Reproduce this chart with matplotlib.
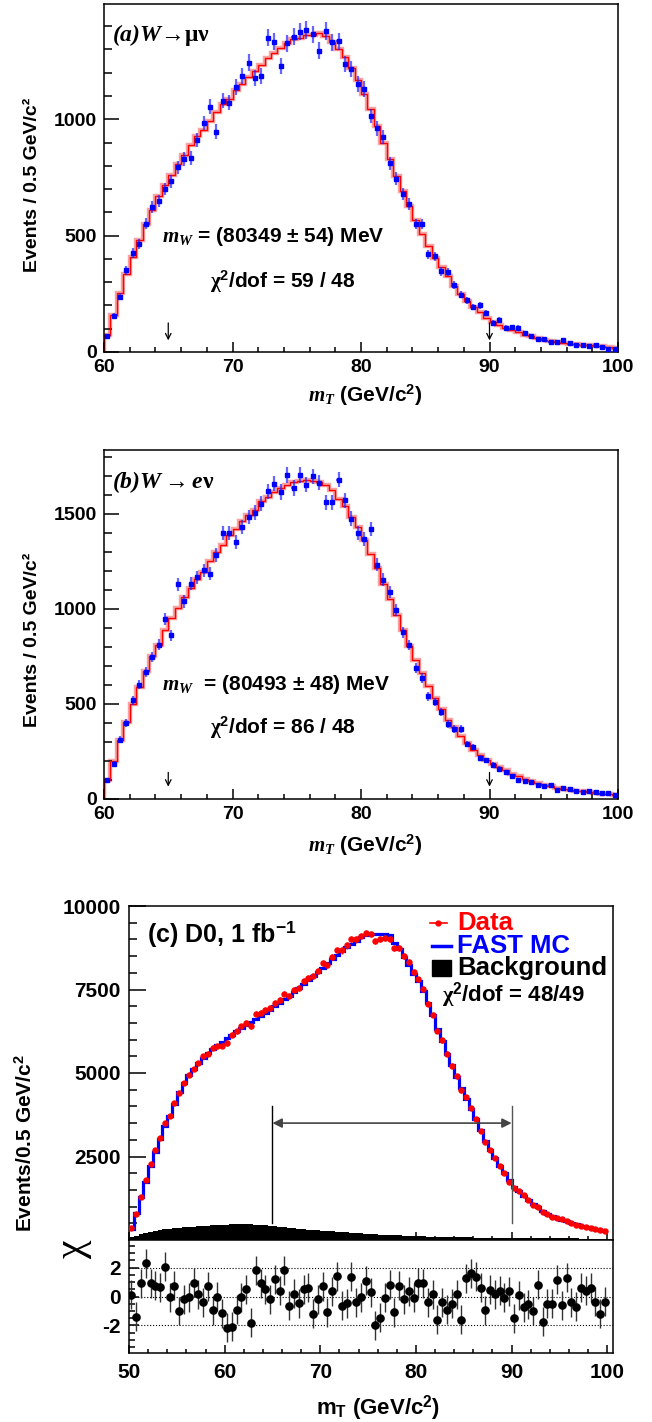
import numpy as np
import matplotlib
matplotlib.use('Agg')
import matplotlib.pyplot as plt
from matplotlib.ticker import MultipleLocator, FixedLocator
from matplotlib.lines import Line2D
from matplotlib.patches import Rectangle

plt.rcParams.update({
    'font.family': 'Liberation Sans', 'font.weight': 'bold',
    'mathtext.fontset': 'custom',
    'mathtext.rm': 'Liberation Sans:bold',
    'mathtext.bf': 'Liberation Sans:bold',
    'mathtext.it': 'Liberation Serif:italic:bold',
    'mathtext.sf': 'Liberation Serif',
    'mathtext.cal': 'Liberation Serif:italic:bold',
    'axes.linewidth': 1.1,
    'axes.unicode_minus': False,
})

# ---------------- data ----------------
EDGES_AB = np.linspace(60, 100, 81)
EDGES_C = np.linspace(50, 100, 101)

A_TEMPLATE = [71, 161, 254, 333, 409, 483, 551, 611, 671, 719,
              761, 807, 847, 890, 926, 954, 994, 1030, 1066, 1086,
              1126, 1151, 1180, 1207, 1233, 1261, 1283, 1307, 1329, 1343,
              1351, 1361, 1363, 1369, 1357, 1333, 1300, 1266, 1219, 1169,
              1109, 1043, 971, 900, 829, 754, 690, 628, 566, 506,
              455, 402, 365, 325, 285, 250, 220, 194, 170, 145,
              130, 115, 104, 95, 84, 75, 67, 59, 52, 47,
              43, 39, 36, 33, 30, 28, 26, 24, 21, 19]
A_DATA = [69, 154, 237, 351, 426, 464, 551, 623, 647, 700,
          733, 794, 829, 833, 911, 983, 1054, 947, 1080, 1071,
          1137, 1186, 1243, 1179, 1186, 1350, 1333, 1229, 1326, 1354,
          1376, 1383, 1364, 1294, 1379, 1330, 1336, 1236, 1216, 1151,
          1129, 1014, 961, 923, 811, 744, 678, 637, 550, 550,
          419, 411, 347, 343, 286, 247, 223, 193, 200, 166,
          126, 137, 104, 107, 104, 83, 69, 57, 57, 44,
          44, 50, 37, 30, 30, 26, 30, 23, 11, 11]

B_TEMPLATE = [98, 198, 312, 404, 500, 588, 672, 751, 812, 891,
              953, 1005, 1061, 1109, 1158, 1196, 1251, 1298, 1337, 1389,
              1418, 1460, 1495, 1521, 1565, 1588, 1614, 1635, 1653, 1667,
              1670, 1675, 1672, 1667, 1649, 1623, 1579, 1539, 1482, 1430,
              1363, 1289, 1214, 1132, 1053, 965, 886, 804, 733, 663,
              593, 532, 474, 418, 377, 333, 295, 260, 233, 207,
              186, 167, 151, 133, 119, 105, 95, 84, 75, 67,
              60, 54, 49, 44, 40, 35, 32, 28, 25, 19]
B_DATA = [98, 186, 312, 400, 519, 602, 668, 748, 812, 947,
          860, 1128, 1039, 1132, 1167, 1202, 1184, 1284, 1398, 1400,
          1351, 1430, 1482, 1505, 1553, 1618, 1658, 1614, 1702, 1635,
          1705, 1653, 1696, 1663, 1561, 1561, 1679, 1570, 1474, 1398,
          1368, 1418, 1232, 1154, 1088, 996, 877, 810, 689, 637,
          540, 509, 456, 395, 368, 368, 289, 274, 216, 203,
          181, 160, 142, 119, 98, 96, 88, 72, 67, 72,
          49, 58, 53, 40, 37, 40, 37, 32, 32, 19]

C_DATA = [350, 780, 1300, 1810, 2280, 2680, 3060, 3500, 3700, 4100,
          4400, 4700, 4950, 5120, 5300, 5500, 5580, 5750, 5800, 5820,
          5900, 6150, 6250, 6400, 6500, 6400, 6780, 6800, 6900, 6950,
          7100, 7180, 7380, 7300, 7500, 7550, 7750, 7850, 7900, 8050,
          8300, 8220, 8480, 8680, 8670, 8820, 9020, 9000, 9100, 9200,
          9170, 8950, 9020, 9050, 9020, 8750, 8750, 8500, 8320, 8020,
          7800, 7520, 7080, 6750, 6270, 5980, 5580, 5220, 4900, 4480,
          4280, 3950, 3620, 3260, 2930, 2700, 2450, 2230, 2000, 1750,
          1560, 1480, 1350, 1200, 1060, 1000, 850, 780, 700, 660,
          620, 560, 500, 460, 430, 400, 360, 330, 300, 270]
C_MC = [340, 820, 1280, 1730, 2220, 2640, 3030, 3400, 3720, 4060,
        4430, 4710, 4950, 5120, 5300, 5460, 5600, 5720, 5830, 5930,
        6040, 6150, 6250, 6340, 6430, 6520, 6610, 6700, 6800, 6900,
        7000, 7100, 7210, 7320, 7430, 7540, 7660, 7780, 7900, 8020,
        8150, 8280, 8400, 8520, 8640, 8760, 8870, 8960, 9060, 9140,
        9150, 9150, 9150, 9150, 9140, 8880, 8700, 8480, 8230, 7960,
        7760, 7460, 7100, 6730, 6330, 5950, 5580, 5230, 4880, 4540,
        4220, 3920, 3630, 3280, 2960, 2700, 2450, 2220, 2000, 1790,
        1600, 1460, 1330, 1200, 1080, 990, 880, 790, 720, 660,
        610, 560, 510, 470, 430, 400, 365, 335, 305, 280]
C_BKG = [90, 130, 170, 210, 240, 270, 300, 320, 340, 355,
         370, 380, 390, 400, 410, 420, 430, 440, 450, 455,
         460, 465, 470, 470, 468, 465, 460, 450, 440, 428,
         415, 400, 385, 370, 355, 340, 325, 312, 300, 288,
         276, 265, 255, 245, 235, 225, 215, 205, 196, 188,
         180, 172, 164, 156, 149, 142, 136, 130, 124, 118,
         113, 108, 104, 100, 96, 92, 89, 86, 83, 80,
         78, 76, 74, 72, 70, 68, 66, 64, 62, 60,
         58, 57, 56, 55, 54, 53, 52, 51, 50, 49,
         48, 47, 46, 45, 44, 43, 42, 41, 40, 39]
C_CHI = [0.12, -1.4, 0.9, 2.3, 0.9, 0.75, 0.65, 2.05, -0.05, 0.75,
         -1.0, -0.2, -0.05, 0.95, 0.15, -0.4, 0.7, -0.95, 0.0, -1.15,
         -2.15, -2.1, -0.9, -0.05, 0.5, -1.8, 1.8, 0.9, 0.5, -0.2,
         1.2, 0.4, 1.8, -0.65, 0.2, -0.45, 0.5, 0.6, -1.2, -0.2,
         0.7, -1.1, 0.35, 1.4, -0.65, -0.45, 1.35, -0.4, -0.05, 1.1,
         0.3, -2.0, -1.45, -0.1, 0.8, -1.1, 0.75, -0.2, 0.35, -0.1,
         0.95, 0.9, -0.4, 0.15, -1.6, -0.4, -0.9, -0.5, 0.15, -1.6,
         1.25, 1.6, 1.35, 0.6, -0.95, 0.45, 0.15, 0.4, -0.1, 0.35,
         -1.5, 0.1, -0.75, -0.55, -1.0, 0.8, -1.75, -0.5, -0.5, 1.15,
         -0.6, 1.3, -0.4, -0.7, 0.6, 0.4, 0.6, -0.35, -1.2, -0.35]

# ---------------- layout ----------------
W, H = 652, 1422
fig = plt.figure(figsize=(W / 100, H / 100), dpi=100)


def box(l, t, r, b):
    return [l / W, 1 - b / H, (r - l) / W, (b - t) / H]


def fx(px):
    return px / W


def fy(py):
    return 1 - py / H


axA = fig.add_axes(box(104, 4, 618, 352))
axB = fig.add_axes(box(104, 450, 618, 799))
axC = fig.add_axes(box(129, 906, 613, 1240))
axR = fig.add_axes(box(129, 1240, 613, 1353))


def wpanel(ax, tmpl, data, ymax, arr_top, arr_bot):
    tmpl = np.asarray(tmpl, float)
    data = np.asarray(data, float)
    centers = 0.5 * (EDGES_AB[:-1] + EDGES_AB[1:])
    ax.stairs(tmpl, EDGES_AB, baseline=0, color='#f7a3a3', lw=3.2, zorder=1)
    ax.stairs(tmpl, EDGES_AB, baseline=0, color='red', lw=1.0, zorder=2)
    ax.errorbar(centers, data, yerr=np.sqrt(data), xerr=0.16, fmt='s', ms=2.2,
                mfc='blue', mec='blue', ecolor=(0.15, 0.15, 1.0, 0.7),
                elinewidth=1.6, capsize=0, zorder=3)
    ax.set_xlim(60, 100)
    ax.set_ylim(0, ymax)
    ax.xaxis.set_major_locator(MultipleLocator(10))
    ax.xaxis.set_minor_locator(MultipleLocator(2))
    ax.yaxis.set_major_locator(MultipleLocator(500))
    ax.yaxis.set_minor_locator(MultipleLocator(100))
    ax.tick_params(which='both', direction='in', top=False, right=False,
                   labelsize=14, width=1.1)
    ax.tick_params(axis='y', which='major', length=11, pad=5)
    ax.tick_params(axis='y', which='minor', length=5.5)
    ax.tick_params(axis='x', which='major', length=7, pad=5)
    ax.tick_params(axis='x', which='minor', length=3.5)
    for xa in (65, 90):
        ax.annotate('', xy=(xa, arr_bot), xytext=(xa, arr_top),
                    arrowprops=dict(arrowstyle='->', color='black', lw=0.9,
                                    shrinkA=0, shrinkB=0, mutation_scale=10))


wpanel(axA, A_TEMPLATE, A_DATA, 1495, 125, 50)
wpanel(axB, B_TEMPLATE, B_DATA, 1835, 140, 65)

# panel texts (a)
fig.text(fx(112), fy(35), r'$\mathcal{(a)W}\mathsf{→μν}$', fontsize=17,
         ha='left', va='center')
fig.text(fx(162), fy(236), r'$\mathcal{m}_{\mathcal{W}}$ = (80349 ± 54) MeV', fontsize=15,
         ha='left', va='center')
fig.text(fx(210), fy(282), r'$\mathsf{\chi}^{\mathrm{2}}$/dof = 59 / 48', fontsize=15,
         ha='left', va='center')
fig.text(fx(33), fy(185), 'Events / 0.5 GeV/c²', fontsize=14, rotation=90,
         ha='center', va='center')
fig.text(fx(365), fy(395), r'$\mathcal{m}_{\mathcal{T}}$ (GeV/c$^{2}$)', fontsize=15,
         ha='center', va='center')

# panel texts (b)
fig.text(fx(112), fy(482), r'$\mathcal{(b)W}\mathsf{\rightarrow}\mathcal{e}\mathsf{\nu}$',
         fontsize=17, ha='left', va='center')
fig.text(fx(162), fy(685), r'$\mathcal{m}_{\mathcal{W}}$  = (80493 ± 48) MeV', fontsize=15,
         ha='left', va='center')
fig.text(fx(210), fy(728), r'$\mathsf{\chi}^{\mathrm{2}}$/dof = 86 / 48', fontsize=15,
         ha='left', va='center')
fig.text(fx(33), fy(640), 'Events / 0.5 GeV/c²', fontsize=14, rotation=90,
         ha='center', va='center')
fig.text(fx(365), fy(845), r'$\mathcal{m}_{\mathcal{T}}$ (GeV/c$^{2}$)', fontsize=15,
         ha='center', va='center')

# ---------------- panel (c) ----------------
c_data = np.asarray(C_DATA, float)
c_cent = 0.5 * (EDGES_C[:-1] + EDGES_C[1:])
axC.stairs(C_BKG, EDGES_C, baseline=0, fill=True, color='black', zorder=1)
axC.stairs(C_MC, EDGES_C, baseline=None, color='blue', lw=2.3, zorder=2)
axC.errorbar(c_cent, c_data, yerr=np.sqrt(c_data), fmt='o', ms=3.6, color='red',
             elinewidth=1.0, capsize=0, zorder=3)
axC.plot([65, 65], [500, 4000], color='black', lw=1.0, zorder=4)
axC.plot([90, 90], [500, 4000], color='#555555', lw=1.0, zorder=4)
axC.annotate('', xy=(65, 3500), xytext=(90, 3500),
             arrowprops=dict(arrowstyle='<|-|>', color='#444444', lw=1.2,
                             shrinkA=0, shrinkB=0, mutation_scale=14), zorder=4)
axC.set_xlim(50, 100.6)
axC.set_ylim(0, 10000)
axC.xaxis.set_major_locator(MultipleLocator(10))
axC.xaxis.set_minor_locator(MultipleLocator(2))
axC.yaxis.set_major_locator(FixedLocator([2500, 5000, 7500, 10000]))
axC.yaxis.set_minor_locator(MultipleLocator(500))
axC.tick_params(which='both', direction='in', top=False, right=False,
                labelsize=15, width=1.1, labelbottom=False)
axC.tick_params(axis='y', which='major', length=12, pad=6)
axC.tick_params(axis='y', which='minor', length=6)
axC.tick_params(axis='x', which='major', length=6)
axC.tick_params(axis='x', which='minor', length=3)

r_chi = np.asarray(C_CHI, float)
for yv in (2, 0, -2):
    axR.axhline(yv, ls=':', color='black', lw=0.8, zorder=1)
axR.errorbar(c_cent, r_chi, yerr=np.ones_like(r_chi), fmt='o', ms=5.2, color='black',
             ecolor='#333333', elinewidth=1.0, capsize=0, zorder=3)
axR.set_xlim(50, 100.6)
axR.set_ylim(-3.9, 3.9)
axR.xaxis.set_major_locator(MultipleLocator(10))
axR.xaxis.set_minor_locator(MultipleLocator(2))
axR.yaxis.set_major_locator(FixedLocator([-2, 0, 2]))
axR.yaxis.set_minor_locator(MultipleLocator(0.5))
axR.tick_params(which='both', direction='in', top=False, right=False,
                labelsize=15, width=1.1)
axR.tick_params(axis='y', which='major', length=7, pad=6)
axR.tick_params(axis='y', which='minor', length=4)
axR.tick_params(axis='x', which='major', length=6, pad=7)
axR.tick_params(axis='x', which='minor', length=3)

fig.text(fx(25), fy(1143), r'Events/0.5 GeV/c$^{2}$', fontsize=15, rotation=90,
         ha='center', va='center')
fig.text(fx(73), fy(1250), 'χ', family='Liberation Serif', fontweight='normal',
         fontsize=30, rotation=90, ha='center', va='center')
fig.text(fx(378), fy(1408), r'm$_{\mathrm{T}}$ (GeV/c$^{2}$)', fontsize=16,
         ha='center', va='center')

# legend / labels for (c)
fig.text(fx(147), fy(934), r'(c) D0, 1 fb$^{\mathrm{-1}}$', fontsize=18,
         ha='left', va='center')
fig.add_artist(Line2D([fx(430), fx(447)], [fy(923), fy(923)], color='red', lw=1.2))
fig.add_artist(Line2D([fx(438)], [fy(923)], marker='o', ms=3.5, color='red'))
fig.text(fx(457), fy(923), 'Data', color='red', fontsize=18.5, ha='left', va='center')
fig.add_artist(Line2D([fx(432), fx(451)], [fy(946), fy(946)], color='blue', lw=2.5))
fig.text(fx(457), fy(946), 'FAST MC', color='blue', fontsize=18.5, ha='left', va='center')
fig.add_artist(Rectangle((fx(432), fy(976)), fx(451) - fx(432), fy(960) - fy(976),
                         transform=fig.transFigure, color='black'))
fig.text(fx(457), fy(968), 'Background', color='black', fontsize=18.5, ha='left', va='center')
fig.text(fx(442), fy(995), r'$\mathsf{\chi}^{\mathrm{2}}$/dof = 48/49', fontsize=16,
         ha='left', va='center')

fig.savefig('out.png', dpi=100)
